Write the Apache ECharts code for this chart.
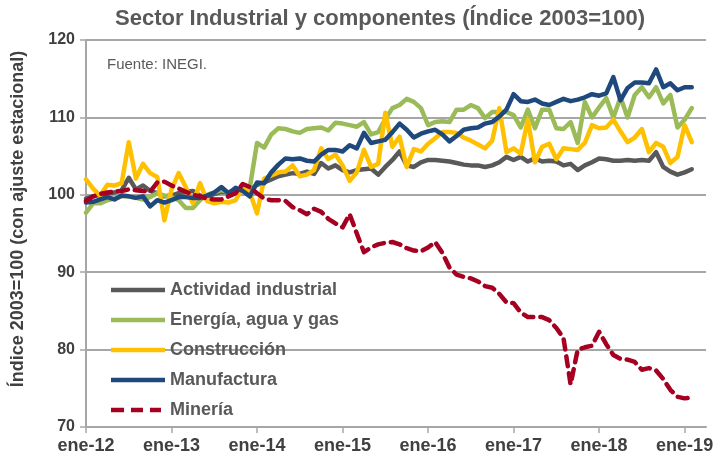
<!DOCTYPE html>
<html>
<head>
<meta charset="utf-8">
<script src="https://cdn.jsdelivr.net/npm/echarts@6/dist/echarts.min.js"></script>
<style>
html, body { margin: 0; padding: 0; background: #fff; }
#chart { width: 719px; height: 460px; }
</style>
</head>
<body>
<div id="chart"></div>
<script>
// eje x: meses de ene-12 a feb-19 (+2 meses vacíos para el margen derecho)
var meses = ['ene', 'feb', 'mar', 'abr', 'may', 'jun', 'jul', 'ago', 'sep', 'oct', 'nov', 'dic'];
var anios = ['12', '13', '14', '15', '16', '17', '18', '19'];
var categorias = [];
anios.forEach(function (a) {
    meses.forEach(function (m) { categorias.push(m + '-' + a); });
});
categorias = categorias.slice(0, 88);

var yTicks = [70, 80, 90, 100, 110, 120];

var actividad = [
    99.5, 99.8, 100.0, 100.2, 100.3, 100.6, 102.2, 100.7, 101.2, 100.5, 100.2, 99.8,
    99.9, 100.2, 100.4, 100.5, 99.9, 99.8, 100.1, 100.4, 100.3, 100.6, 100.9, 100.6,
    101.3, 101.6, 102.0, 102.4, 102.6, 102.8, 102.7, 103.0, 102.7, 104.1, 103.4, 103.8,
    103.2, 102.9, 103.2, 103.3, 103.4, 102.6, 103.6, 104.5, 105.6, 103.8, 103.6, 104.2,
    104.5, 104.5, 104.4, 104.3, 104.1, 103.9, 103.8, 103.8, 103.6, 103.8, 104.2, 104.9,
    104.5, 104.9, 104.3, 104.7, 104.3, 104.4, 104.3, 103.8, 104.0, 103.2, 103.8, 104.2,
    104.7, 104.6, 104.4, 104.4, 104.5, 104.4, 104.5, 104.4, 105.5, 103.6, 103.0, 102.6,
    102.9, 103.3
];
var energia = [
    97.7, 98.9, 98.9, 99.3, 99.5, 99.8, 99.8, 99.6, 99.4, 99.7, 100.2, 99.9,
    99.7, 99.3, 98.3, 98.3, 99.3, 100.0, 100.3, 100.6, 100.3, 100.4, 100.7, 101.0,
    106.7, 106.1, 107.8, 108.6, 108.5, 108.2, 108.0, 108.5, 108.6, 108.7, 108.3, 109.3,
    109.2, 109.0, 108.8, 109.4, 107.8, 108.1, 109.8, 111.2, 111.6, 112.4, 112.0, 111.2,
    109.0, 109.4, 109.5, 109.4, 111.0, 111.0, 111.6, 111.2, 109.9, 110.7, 110.7, 110.7,
    110.3, 108.7, 111.0, 108.6, 111.0, 111.0, 108.6, 108.5, 109.4, 106.7, 112.0, 110.0,
    111.3, 112.5, 110.0, 112.6, 110.0, 112.9, 113.9, 112.6, 113.9, 111.8, 112.9, 108.7,
    109.7, 111.2
];
var construccion = [
    102.0, 100.8, 99.9, 101.3, 101.2, 101.5, 106.8, 102.1, 104.0, 102.8, 102.3, 96.7,
    100.7, 102.8, 101.0, 98.9, 101.5, 99.2, 98.9, 99.1, 99.0, 99.3, 101.0, 100.3,
    97.6, 102.1, 102.5, 102.9, 103.0, 103.8, 102.4, 102.6, 103.2, 106.0, 104.6, 105.2,
    103.8, 101.8, 102.9, 105.8, 103.6, 104.0, 110.6, 106.2, 107.5, 103.6, 105.9, 105.6,
    106.6, 107.3, 108.1, 108.1, 108.0, 107.4, 107.0, 106.5, 106.0, 107.0, 111.2, 105.5,
    106.0, 105.3, 109.7, 104.2, 106.2, 106.6, 104.6, 106.0, 105.9, 105.8, 106.7, 109.0,
    108.6, 108.7, 109.7, 108.2, 106.8, 107.4, 108.5, 105.5, 106.7, 106.2, 104.1, 104.9,
    109.0, 106.8
];
var manufactura = [
    99.0, 99.1, 99.4, 99.7, 99.4, 99.9, 99.8, 99.6, 99.8, 98.5, 99.3, 99.0,
    99.3, 99.7, 99.7, 99.6, 99.6, 99.9, 100.3, 101.0, 100.2, 100.9, 100.5, 99.8,
    101.6, 101.5, 102.9, 103.9, 104.7, 104.6, 104.7, 104.4, 104.3, 105.2, 105.8, 105.8,
    105.6, 106.4, 106.0, 108.0, 106.7, 106.9, 107.1, 108.1, 109.2, 108.4, 107.4, 107.9,
    108.2, 108.4, 107.8, 106.9, 107.6, 108.4, 108.6, 108.7, 109.2, 109.4, 110.1, 111.0,
    113.0, 112.1, 112.0, 112.3, 111.8, 111.6, 112.0, 112.4, 112.1, 112.3, 112.6, 113.0,
    112.8, 113.1, 115.2, 112.2, 113.8, 114.5, 114.5, 114.4, 116.2, 113.9, 114.4, 113.5,
    113.9, 113.9
];
var mineria = [
    99.2, 99.8, 100.1, 100.3, 100.4, 100.5, 100.7, 100.6, 100.5, 100.4, 101.6, 101.7,
    101.2, 100.8, 100.4, 100.0, 99.8, 99.5, 99.4, 99.4, 99.8, 100.2, 101.4, 101.0,
    100.2, 99.5, 99.3, 99.3, 99.2, 98.4, 98.0, 97.5, 98.2, 97.8, 96.9, 96.3,
    95.8, 97.5, 95.0, 92.6, 93.2, 93.6, 93.8, 93.9, 93.6, 93.1, 92.8, 92.7,
    93.2, 93.9, 92.5, 90.6, 89.7, 89.4, 89.2, 88.8, 88.2, 88.0, 87.2, 86.1,
    86.0, 84.8, 84.2, 84.2, 84.2, 83.8, 82.8, 81.5, 75.5, 80.0, 80.3, 80.5,
    82.3, 80.7, 79.3, 78.8, 78.7, 78.4, 77.4, 77.6, 77.3, 76.2, 74.8, 73.9,
    73.7, 73.8
];

var fuente = 'Liberation Sans, Arial, sans-serif';
var gris = '#595959';

// iconos de la leyenda: barra continua y barra discontinua
var iconoLinea = 'path://M0,0H54V4.5H0Z';
var iconoGuiones = 'path://M0,0H13V4.5H0Z M20,0H32V4.5H20Z M39,0H50V4.5H39Z M54,0L54,4.5Z';

var chartDom = document.getElementById('chart');
var myChart = echarts.init(chartDom);

function serie(nombre, datos, color, tipo) {
    return {
        name: nombre,
        type: 'line',
        data: datos,
        symbol: 'none',
        smooth: false,
        lineStyle: { color: color, width: 4.5, type: tipo || 'solid', cap: 'round', join: 'round' },
        itemStyle: { color: color }
    };
}

var option = {
    animation: false,
    backgroundColor: '#fff',
    grid: { left: 86, right: 13, top: 40, bottom: 33 },
    graphic: [
        {
            type: 'text', x: 380, y: 19,
            style: {
                text: 'Sector Industrial y componentes (Índice 2003=100)',
                font: 'bold 22px ' + fuente, fill: gris,
                align: 'center', verticalAlign: 'middle'
            }
        },
        {
            type: 'text', x: 107, y: 57,
            style: { text: 'Fuente: INEGI.', font: '15px ' + fuente, fill: gris }
        },
        {
            type: 'text', x: 18, y: 219, rotation: Math.PI / 2,
            style: {
                text: 'Índice 2003=100 (con ajuste estacional)',
                font: 'bold 18px ' + fuente, fill: '#404040',
                align: 'center', verticalAlign: 'middle'
            }
        }
    ],
    legend: {
        orient: 'vertical',
        left: 106,
        top: 275,
        itemWidth: 54,
        itemHeight: 14,
        itemGap: 10,
        textStyle: { color: gris, fontFamily: fuente, fontWeight: 'bold', fontSize: 18, lineHeight: 20 },
        data: [
            { name: 'Actividad industrial', icon: iconoLinea },
            { name: 'Energía, agua y gas', icon: iconoLinea },
            { name: 'Construcción', icon: iconoLinea },
            { name: 'Manufactura', icon: iconoLinea },
            { name: 'Minería', icon: iconoGuiones }
        ]
    },
    xAxis: {
        type: 'category',
        data: categorias,
        boundaryGap: false,
        axisLine: { lineStyle: { color: '#A6A6A6', width: 2 } },
        axisTick: {
            interval: function (i) { return i % 12 === 0; },
            length: 6, lineStyle: { color: '#A6A6A6', width: 1.5 }
        },
        axisLabel: {
            interval: function (i) { return i % 12 === 0; },
            margin: 10, color: '#404040', fontFamily: fuente, fontWeight: 'bold', fontSize: 18
        },
        splitLine: { show: false }
    },
    yAxis: {
        type: 'value',
        min: yTicks[0],
        max: yTicks[yTicks.length - 1],
        interval: 10,
        axisLine: { show: true, lineStyle: { color: '#A6A6A6', width: 2 } },
        axisTick: { show: true, length: 6, lineStyle: { color: '#A6A6A6', width: 1.5 } },
        axisLabel: { margin: 11, color: '#404040', fontFamily: fuente, fontWeight: 'bold', fontSize: 16 },
        splitLine: { lineStyle: { color: '#A6A6A6', width: 2 } }
    },
    series: [
        serie('Actividad industrial', actividad, '#595959'),
        serie('Energía, agua y gas', energia, '#9BBB59'),
        serie('Construcción', construccion, '#FFC000'),
        serie('Manufactura', manufactura, '#1F497D'),
        serie('Minería', mineria, '#A50021', [10, 7])
    ]
};

myChart.setOption(option);
</script>
</body>
</html>
